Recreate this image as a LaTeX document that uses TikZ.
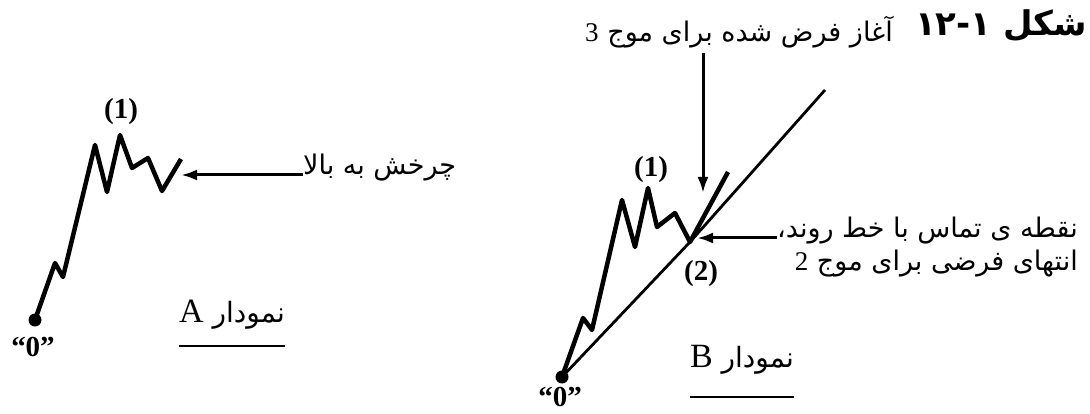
\documentclass[tikz,border=0pt]{standalone}
\usepackage{fontspec}
\setmainfont{Liberation Serif}
\newfontfamily\arabicfont[Script=Arabic]{DejaVu Sans}
\TeXXeTstate=1
\usetikzlibrary{arrows.meta}

\begin{document}
\begin{tikzpicture}[x=1pt, y=-1pt,
  wave/.style={line width=4.5pt, line join=round},
  trend/.style={line width=2.8pt},
  arr/.style={line width=3pt, -{Latex[length=16pt, width=11pt]}},
  uline/.style={line width=1.8pt},
  ptext/.style={inner sep=0pt, font=\arabicfont\fontsize{27}{32}\selectfont},
  lbl/.style={inner sep=0pt, font=\bfseries\fontsize{29}{32}\selectfont},
  chartname/.style={inner sep=0pt, font=\arabicfont\fontsize{28}{32}\selectfont},
  dot/.style={circle, fill, inner sep=0pt, minimum size=13pt}]
\useasboundingbox (0,0) rectangle (1090,414);

% title
\node[inner sep=0pt, anchor=base east, font=\arabicfont\bfseries\fontsize{34}{38}\selectfont] (fig) at (1087,36)
  {\beginR شکل \beginL۱۲-۱\endL\endR};

% chart A
\node[dot] (oA) at (35,320) {};
\draw[wave] (oA.center) -- (55,263) -- (63,277) -- (95,145) -- (107,192) -- (120,135)
  -- (132,168) -- (148,158) -- (162,191) -- (181,159);
\coordinate (tipA) at (181,175);
\node[lbl] (oneA) at (121,112) {(1)};
\node[lbl] (zeroA) at (33,347) {“0”};
\node[ptext, anchor=base west] (turnA) at (303,175) {\beginR چرخش به بالا\endR};
\draw[arr] (turnA.base west) -- (tipA);
\node[chartname, anchor=base] (nameA) at (232,322)
  {\beginR نمودار {\rmfamily\fontsize{34}{38}\selectfont A}\endR};
\draw[uline] ([yshift=-24pt]nameA.base west) -- ([yshift=-24pt]nameA.base east);

% chart B
\node[dot] (oB) at (562,377) {};
\coordinate (twoB) at (690,242);
\draw[wave] (oB.center) -- (583,318) -- (592,330) -- (622,200) -- (635,247) -- (648,188)
  -- (657,227) -- (675,213) -- (twoB) -- (728,172);
\draw[trend] (oB.center) -- (twoB) -- (825,90);
\coordinate (tipB) at (697,238);
\coordinate (tipC) at (703,193);
\node[lbl] (oneB) at (651,170) {(1)};
\node[lbl] (twoBl) at (701,274) {(2)};
\node[lbl] (zeroB) at (560,397) {“0”};
\node[ptext, anchor=base east] (start3) at (893,42)
  {\beginR آغاز فرض شده برای موج {\rmfamily 3}\endR};
\draw[arr] (tipC |- start3.south) ++(0,4) -- (tipC);
\node[ptext, anchor=base east] (touch) at (1078,238) {\beginR نقطه ی تماس با خط روند،\endR};
\node[ptext, anchor=base east] (endtwo) at (1078,271) {\beginR انتهای فرضی برای موج {\rmfamily 2}\endR};
\draw[arr] (touch.base west) -- (tipB);
\node[chartname, anchor=base] (nameB) at (742,367)
  {\beginR نمودار {\rmfamily\fontsize{34}{38}\selectfont B}\endR};
\draw[uline] ([yshift=-30pt]nameB.base west) -- ([yshift=-30pt]nameB.base east);
\end{tikzpicture}
\end{document}
